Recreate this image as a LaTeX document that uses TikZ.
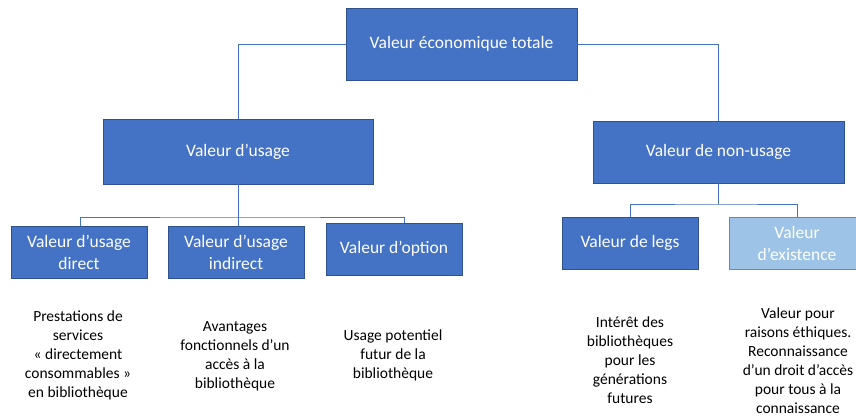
\documentclass[tikz,border=0pt]{standalone}
\usepackage{fontspec}
\setmainfont{Carlito}
\definecolor{boxblue}{HTML}{4472C4}
\definecolor{boxedge}{HTML}{2F528F}
\definecolor{lightblue}{HTML}{9DC3E6}
\definecolor{lightedge}{HTML}{5B8AC0}
\begin{document}
\begin{tikzpicture}[x=1pt,y=-1pt,
  vbox/.style={draw=boxedge, line width=0.8pt, fill=boxblue, text=white, align=center,
    inner sep=0pt, font=\fontsize{17.5}{22}\selectfont},
  lbox/.style={vbox, draw=lightedge, fill=lightblue},
  conn/.style={draw=boxblue, line width=0.8pt},
  desc/.style={align=center, inner sep=0pt, text=black, font=\fontsize{15.5}{19}\selectfont}]
\useasboundingbox (0,0) rectangle (856,416);
\clip (0,0) rectangle (856,416);
\coordinate (ub) at (238,217);
\coordinate (nb) at (718.5,204);
\node[vbox, minimum width=231pt, minimum height=72pt] (top) at (461.5,44) {Valeur économique totale};
\node[vbox, minimum width=270pt, minimum height=65pt] (usage) at (238,151.5) {Valeur d’usage};
\node[vbox, minimum width=251pt, minimum height=62pt] (nonusage) at (718.5,152) {Valeur de non-usage};
\node[vbox, minimum width=136pt, minimum height=52pt] (direct) at (79,252) {Valeur d’usage\\direct};
\node[vbox, minimum width=136pt, minimum height=52pt] (indirect) at (236,252) {Valeur d’usage\\indirect};
\node[vbox, minimum width=136pt, minimum height=52pt] (option) at (394,249) {Valeur d’option};
\node[vbox, minimum width=136pt, minimum height=52pt] (legs) at (630,243) {Valeur de legs};
\node[lbox, minimum width=136pt, minimum height=52pt] (exist) at (797,243) {Valeur\\d’existence};
\draw[conn] (usage.north) |- (top.west);
\draw[conn] (top.east) -| (nonusage.north);
\draw[conn] (usage.south) -- (ub);
\draw[conn] (direct.north -| 80,0) |- (ub) -| (option.north -| 404,0);
\draw[conn] (ub) -- (ub |- indirect.north);
\draw[conn] (nonusage.south) -- (nb);
\draw[conn] (legs.north) |- (nb) -| (exist.north);
\node[desc] (d1) at (78,355.5) {Prestations de\\services\\« directement\\consommables »\\en bibliothèque};
\node[desc] (d2) at (235,356) {Avantages\\fonctionnels d’un\\accès à la\\bibliothèque};
\node[desc] (d3) at (393,355.5) {Usage potentiel\\futur de la\\bibliothèque};
\node[desc] (d4) at (630,360) {Intérêt des\\bibliothèques\\pour les\\générations\\futures};
\node[desc] (d5) at (798,360.5) {Valeur pour\\raisons éthiques.\\Reconnaissance\\d’un droit d’accès\\pour tous à la\\connaissance};
\end{tikzpicture}
\end{document}
